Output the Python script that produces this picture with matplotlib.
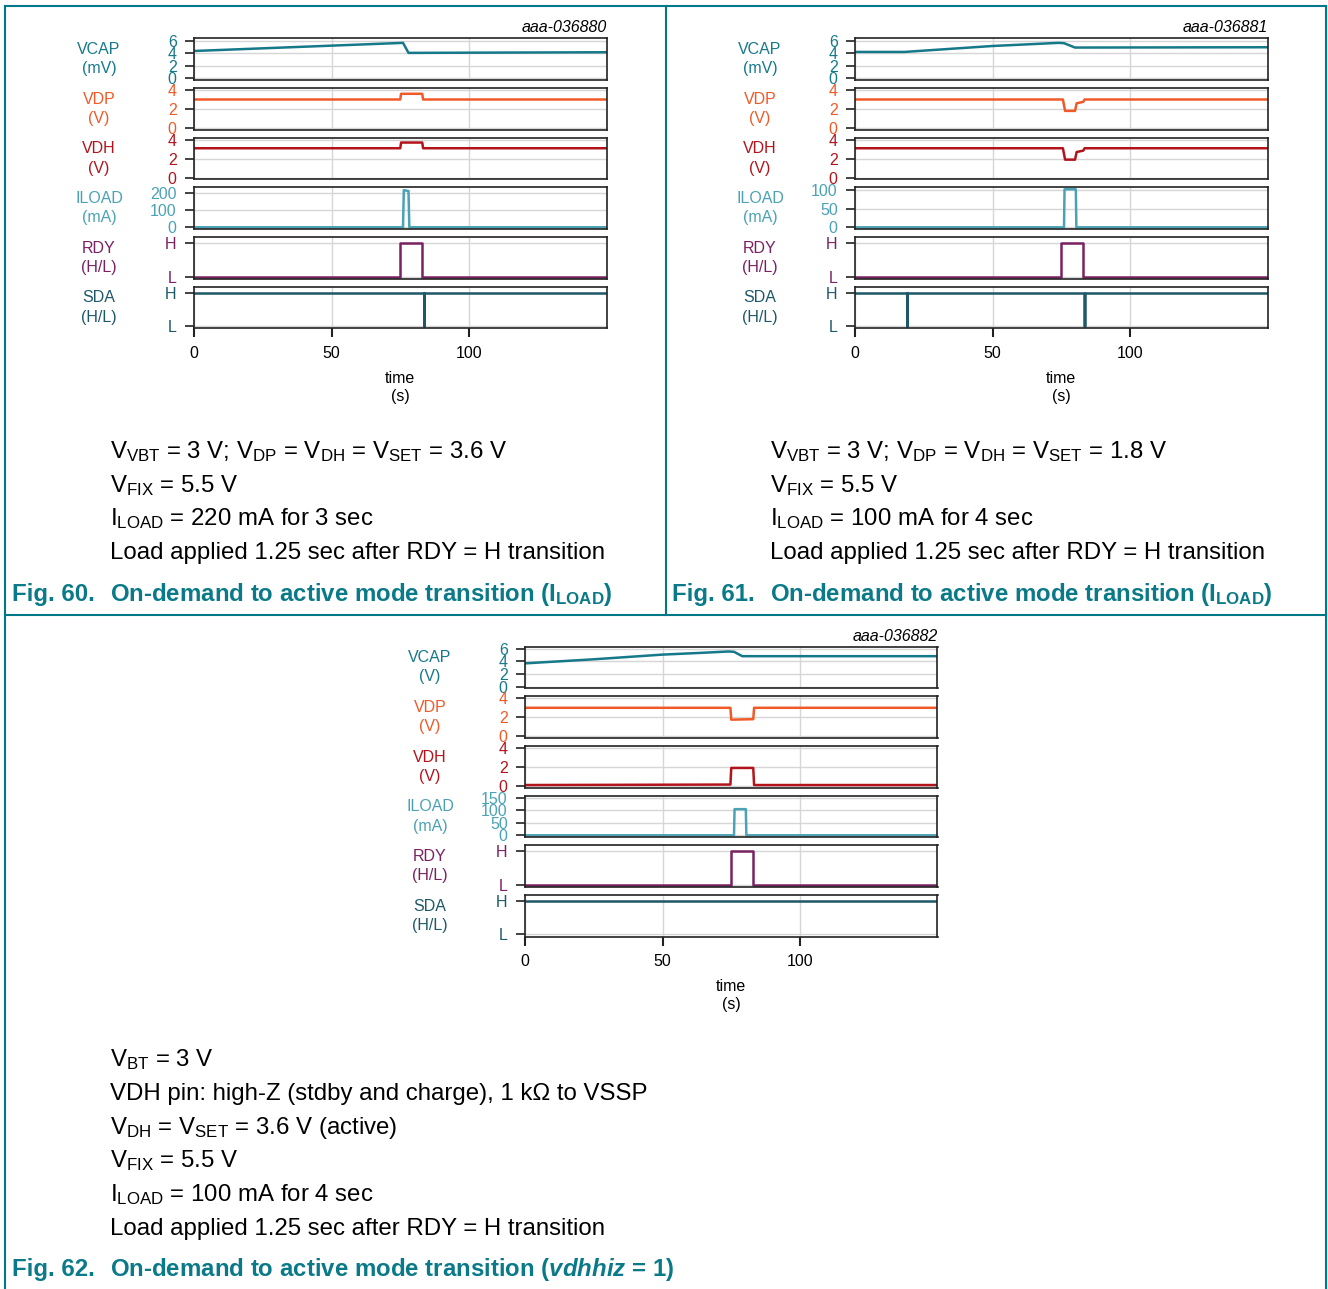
import matplotlib.pyplot as plt
from matplotlib.lines import Line2D

plt.rcParams['font.family'] = ['Liberation Sans', 'DejaVu Sans']
plt.rcParams['mathtext.fontset'] = 'custom'
plt.rcParams['mathtext.rm'] = 'Liberation Sans'
plt.rcParams['mathtext.it'] = 'Liberation Sans:italic'
plt.rcParams['mathtext.bf'] = 'Liberation Sans:bold'
plt.rcParams['mathtext.bfit'] = 'Liberation Sans:italic:bold'

# ---- Fig. 60 waveforms (time in s) ----
t60_vcap = [0, 76, 78, 150]
vcap60 = [4.35, 5.65, 4.05, 4.15]
t60_v = [0, 75, 75.3, 83, 83.3, 150]
vdp60 = [3.0, 3.0, 3.6, 3.6, 3.0, 3.0]
vdh60 = [3.1, 3.1, 3.7, 3.7, 3.1, 3.1]
t60_iload = [0, 76, 76.3, 78, 78.3, 150]
iload60 = [0, 0, 215, 210, 0, 0]
t60_rdy = [0, 75, 75, 83, 83, 150]
rdy60 = [0, 0, 1, 1, 0, 0]
t60_sda = [0, 83.5, 83.5, 83.7, 83.7, 150]
sda60 = [1, 1, 0, 0, 1, 1]

# ---- Fig. 61 ----
t61_vcap = [0, 18, 50, 74, 76, 80, 150]
vcap61 = [4.2, 4.2, 5.15, 5.65, 5.6, 4.9, 4.95]
t61_v = [0, 75.6, 76.4, 80, 80.6, 83, 83.5, 150]
vdp61 = [3.0, 3.0, 1.8, 1.8, 2.6, 2.75, 3.0, 3.0]
vdh61 = [3.1, 3.1, 1.9, 1.9, 2.7, 2.85, 3.1, 3.1]
t61_iload = [0, 76, 76.2, 80.3, 80.5, 150]
iload61 = [0, 0, 102, 102, 0, 0]
t61_rdy = [0, 75, 75, 83, 83, 150]
rdy61 = [0, 0, 1, 1, 0, 0]
t61_sda = [0, 18.8, 18.8, 19.0, 19.0, 83.4, 83.4, 83.6, 83.6, 150]
sda61 = [1, 1, 0, 0, 1, 1, 0, 0, 1, 1]

# ---- Fig. 62 ----
t62_vcap = [0, 25, 50, 65, 74, 76, 79, 150]
vcap62 = [3.7, 4.35, 5.1, 5.4, 5.6, 5.55, 4.85, 4.85]
t62_v = [0, 74.7, 75, 83, 83.3, 150]
vdp62 = [3.0, 3.0, 1.75, 1.8, 3.0, 3.0]
vdh62 = [0.1, 0.15, 1.9, 1.9, 0.1, 0.1]
t62_iload = [0, 76, 76.2, 80.3, 80.5, 150]
iload62 = [0, 0, 105, 105, 0, 0]
t62_rdy = [0, 75, 75, 83, 83, 150]
rdy62 = [0, 0, 1, 1, 0, 0]
t62_sda = [0, 150]
sda62 = [1, 1]

xticks = [0, 50, 100]
hl = ['L', 'H']

c_vcap = '#16798a'
c_vdp = '#f05a28'
c_vdh = '#b3141c'
c_iload = '#4aa2b4'
c_rdy = '#7a2162'
c_sda = '#1d5968'
c_frame = '#00788a'

small = 11.5
W, H = 1328, 1289
fig = plt.figure(figsize=(W / 100, H / 100), dpi=100)


def ax_px(x0, y0, x1, y1):
    return fig.add_axes([x0 / W, 1 - y1 / H, (x1 - x0) / W, (y1 - y0) / H])


def draw_panel(x0, x1, ytop, label_x, code, code_y, traces):
    pitch, h = 49.7, 41.6
    n = len(traces)
    for i, (name, color, t, v, ylim, ticks, tlabels) in enumerate(traces):
        top = ytop + i * pitch
        ax = ax_px(x0, top, x1, top + h)
        ax.plot(t, v, color=color, lw=1.8)
        ax.set_xlim(0, 150)
        ax.set_ylim(*ylim)
        ax.set_yticks(ticks)
        ax.set_yticklabels(tlabels)
        ax.set_xticks(xticks)
        ax.grid(True, color='#d6d6d6', lw=1)
        ax.set_axisbelow(True)
        ax.tick_params(axis='y', direction='out', length=6.5, width=1.2,
                       pad=6, labelsize=small, labelcolor=color, color='#222222')
        if i < n - 1:
            ax.tick_params(axis='x', length=0, labelbottom=False)
        else:
            ax.tick_params(axis='x', direction='out', length=6.5, width=1.5,
                           pad=6, labelsize=small, color='#222222')
        for s in ax.spines.values():
            s.set_color('#222222')
            s.set_linewidth(1.2)
        fig.text(label_x / W, 1 - (top + h / 2) / H, name, color=color,
                 ha='center', va='center', fontsize=small, linespacing=1.35)
    fig.text(x1 / W, 1 - code_y / H, code, ha='right', va='center',
             fontsize=small, style='italic')
    xc = (x0 + x1) / 2
    ybot = ytop + (n - 1) * pitch + h
    fig.text(xc / W, 1 - (ybot + 50) / H, 'time', ha='center', va='center', fontsize=small)
    fig.text(xc / W, 1 - (ybot + 68) / H, '(s)', ha='center', va='center', fontsize=small)


draw_panel(194, 606.5, 38.3, 99, 'aaa-036880', 27, [
    ('VCAP\n(mV)', c_vcap, t60_vcap, vcap60, (-0.27, 6.38), [0, 2, 4, 6], ['0', '2', '4', '6']),
    ('VDP\n(V)', c_vdp, t60_v, vdp60, (-0.17, 4.21), [0, 2, 4], ['0', '2', '4']),
    ('VDH\n(V)', c_vdh, t60_v, vdh60, (-0.17, 4.21), [0, 2, 4], ['0', '2', '4']),
    ('ILOAD\n(mA)', c_iload, t60_iload, iload60, (-10, 231), [0, 100, 200], ['0', '100', '200']),
    ('RDY\n(H/L)', c_rdy, t60_rdy, rdy60, (-0.05, 1.16), [0, 1], hl),
    ('SDA\n(H/L)', c_sda, t60_sda, sda60, (-0.07, 1.18), [0, 1], hl),
])

draw_panel(855, 1267.5, 38.3, 760, 'aaa-036881', 27, [
    ('VCAP\n(mV)', c_vcap, t61_vcap, vcap61, (-0.27, 6.38), [0, 2, 4, 6], ['0', '2', '4', '6']),
    ('VDP\n(V)', c_vdp, t61_v, vdp61, (-0.17, 4.21), [0, 2, 4], ['0', '2', '4']),
    ('VDH\n(V)', c_vdh, t61_v, vdh61, (-0.17, 4.21), [0, 2, 4], ['0', '2', '4']),
    ('ILOAD\n(mA)', c_iload, t61_iload, iload61, (-4.5, 107), [0, 50, 100], ['0', '50', '100']),
    ('RDY\n(H/L)', c_rdy, t61_rdy, rdy61, (-0.05, 1.16), [0, 1], hl),
    ('SDA\n(H/L)', c_sda, t61_sda, sda61, (-0.07, 1.18), [0, 1], hl),
])

draw_panel(525, 937.5, 646.6, 430, 'aaa-036882', 636, [
    ('VCAP\n(V)', c_vcap, t62_vcap, vcap62, (-0.27, 6.38), [0, 2, 4, 6], ['0', '2', '4', '6']),
    ('VDP\n(V)', c_vdp, t62_v, vdp62, (-0.17, 4.21), [0, 2, 4], ['0', '2', '4']),
    ('VDH\n(V)', c_vdh, t62_v, vdh62, (-0.17, 4.21), [0, 2, 4], ['0', '2', '4']),
    ('ILOAD\n(mA)', c_iload, t62_iload, iload62, (-8, 159), [0, 50, 100, 150], ['0', '50', '100', '150']),
    ('RDY\n(H/L)', c_rdy, t62_rdy, rdy62, (-0.05, 1.16), [0, 1], hl),
    ('SDA\n(H/L)', c_sda, t62_sda, sda62, (-0.07, 1.18), [0, 1], hl),
])

body = 17.3


def line(x, ybase, s, **kw):
    fig.text(x / W, 1 - ybase / H, s, ha='left', va='baseline', fontsize=body, **kw)


def sub(s):
    return r'$_{\mathregular{' + s + '}}$'


cap_text_60 = ['V' + sub('VBT') + ' = 3 V; V' + sub('DP') + ' = V' + sub('DH') + ' = V' + sub('SET') + ' = 3.6 V',
               'V' + sub('FIX') + ' = 5.5 V',
               'I' + sub('LOAD') + ' = 220 mA for 3 sec',
               'Load applied 1.25 sec after RDY = H transition']
cap_text_61 = ['V' + sub('VBT') + ' = 3 V; V' + sub('DP') + ' = V' + sub('DH') + ' = V' + sub('SET') + ' = 1.8 V',
               'V' + sub('FIX') + ' = 5.5 V',
               'I' + sub('LOAD') + ' = 100 mA for 4 sec',
               'Load applied 1.25 sec after RDY = H transition']
cap_text_62 = ['V' + sub('BT') + ' = 3 V',
               'VDH pin: high-Z (stdby and charge), 1 kΩ to VSSP',
               'V' + sub('DH') + ' = V' + sub('SET') + ' = 3.6 V (active)',
               'V' + sub('FIX') + ' = 5.5 V',
               'I' + sub('LOAD') + ' = 100 mA for 4 sec',
               'Load applied 1.25 sec after RDY = H transition']

for i, s in enumerate(cap_text_60):
    line(110, 458 + i * 33.7, s)
for i, s in enumerate(cap_text_61):
    line(770, 458 + i * 33.7, s)
for i, s in enumerate(cap_text_62):
    line(110, 1066 + i * 33.8, s)

teal = '#0b7a88'
line(12, 601, 'Fig. 60.', color=teal, fontweight='bold')
line(110, 601, r'On-demand to active mode transition (I$_{\mathbf{LOAD}}$)', color=teal, fontweight='bold')
line(672, 601, 'Fig. 61.', color=teal, fontweight='bold')
line(770, 601, r'On-demand to active mode transition (I$_{\mathbf{LOAD}}$)', color=teal, fontweight='bold')
line(12, 1276, 'Fig. 62.', color=teal, fontweight='bold')
line(110, 1276, r'On-demand to active mode transition ($\mathbfit{vdhhiz}$ = 1)', color=teal, fontweight='bold')


def fline(xa, ya, xb, yb):
    fig.add_artist(Line2D([xa / W, xb / W], [1 - ya / H, 1 - yb / H], color=c_frame,
                          lw=1.5, transform=fig.transFigure))


fline(5, 6, 1326, 6)
fline(5, 6, 5, 1289)
fline(1326, 6, 1326, 1289)
fline(665.5, 6, 665.5, 615)
fline(5, 615, 1326, 615)

fig.savefig('out.png', dpi=100)
